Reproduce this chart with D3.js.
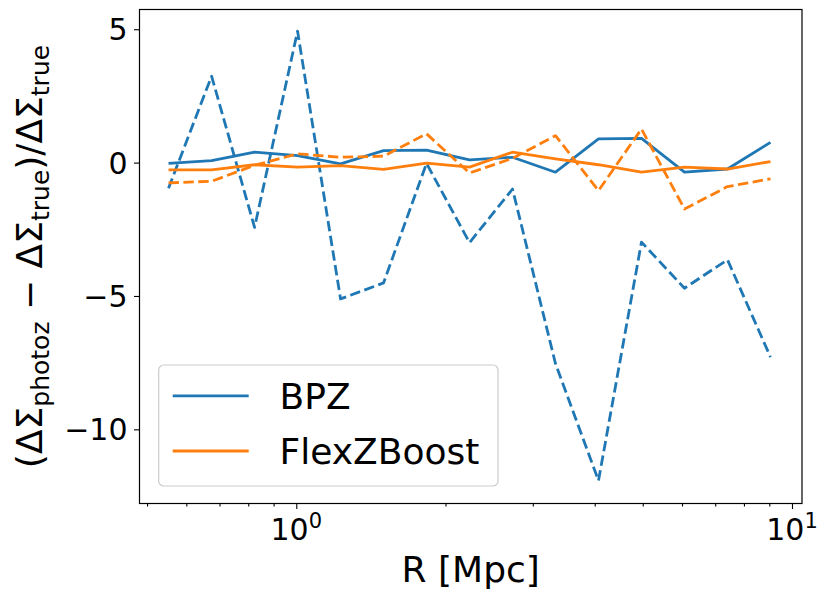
<!DOCTYPE html>
<html>
<head>
<meta charset="utf-8">
<script src="https://cdn.jsdelivr.net/npm/d3@7"></script>
<style>
  html, body { margin: 0; padding: 0; background: #fff; }
  svg { display: block; font-family: "DejaVu Sans", sans-serif; }
</style>
</head>
<body>
<svg id="chart" width="818" height="590"></svg>
<script>
// ---- data ----
const radius = [0.5524, 0.6747, 0.8238, 1.0059, 1.2282, 1.4997, 1.8312, 2.2360, 2.7302, 3.3337, 4.0706, 4.9704, 6.0690, 7.4105, 9.0486];
const bpzSolid = [-0.03, 0.075, 0.39, 0.26, -0.05, 0.45, 0.47, 0.1, 0.2, -0.36, 0.89, 0.91, -0.36, -0.24, 0.76];
const bpzDashed = [-0.96, 3.24, -2.43, 4.93, -5.11, -4.51, -0.03, -3.0, -0.99, -7.54, -11.92, -2.98, -4.71, -3.64, -7.29];
const flexSolid = [-0.27, -0.27, -0.08, -0.17, -0.11, -0.25, -0.02, -0.17, 0.39, 0.14, -0.08, -0.36, -0.17, -0.24, 0.04];
const flexDashed = [-0.76, -0.7, -0.1, 0.33, 0.2, 0.24, 1.08, -0.39, 0.16, 1.01, -1.05, 1.26, -1.74, -0.9, -0.61];
const seriesNames = ["BPZ", "FlexZBoost"];
const seriesColors = ["#1f77b4", "#ff7f0e"];
const yTicks = [5, 0, -5, -10];
const xMajorTicks = [1, 10];
const xMinorTicks = [0.5, 0.6, 0.7, 0.8, 0.9, 2, 3, 4, 5, 6, 7, 8, 9];

// ---- layout ----
const L = 139.5, R = 802, T = 9.5, B = 503.5;
const svg = d3.select("#chart");
const x = d3.scaleLog().domain([Math.pow(10, -0.3163), Math.pow(10, 1.0202)]).range([L, R]);
const y = d3.scaleLinear().domain([-12.78, 5.74]).range([B, T]);

const plotG = svg.append("g");
plotG.append("clipPath").attr("id", "clip").append("rect")
  .attr("x", L).attr("y", T).attr("width", R - L).attr("height", B - T);

const line = d3.line().x(d => x(d[0])).y(d => y(d[1]));
const lines = [
  { vals: bpzSolid, color: seriesColors[0], dash: null },
  { vals: bpzDashed, color: seriesColors[0], dash: "10.4,4.5" },
  { vals: flexSolid, color: seriesColors[1], dash: null },
  { vals: flexDashed, color: seriesColors[1], dash: "10.4,4.5" }
];
const linesG = plotG.append("g").attr("clip-path", "url(#clip)");
lines.forEach(s => {
  linesG.append("path")
    .datum(radius.map((r, i) => [r, s.vals[i]]))
    .attr("d", line)
    .attr("fill", "none")
    .attr("stroke", s.color)
    .attr("stroke-width", 2.8)
    .attr("stroke-linejoin", "round")
    .attr("stroke-dasharray", s.dash);
});

// ---- axes ----
const xAxisMajor = d3.axisBottom(x).tickValues(xMajorTicks).tickSize(5.5).tickFormat("");
const xAxisMinor = d3.axisBottom(x).tickValues(xMinorTicks).tickSize(3).tickFormat("");
const gx = svg.append("g").attr("transform", `translate(0,${B})`);
gx.call(xAxisMajor);
const gxm = svg.append("g").attr("transform", `translate(0,${B})`);
gxm.call(xAxisMinor);
[gx, gxm].forEach(g => {
  g.select(".domain").remove();
  g.selectAll("line").attr("stroke", "#000").attr("stroke-width", 1.1);
});
xMajorTicks.forEach(v => {
  const t = svg.append("text")
    .attr("x", x(v)).attr("y", 540)
    .attr("text-anchor", "middle")
    .attr("font-size", 30);
  t.append("tspan").text("10");
  t.append("tspan").attr("font-size", 21).attr("dy", -12).text(String(Math.round(Math.log10(v))));
});

const yAxis = d3.axisLeft(y).tickValues(yTicks).tickSize(5.5)
  .tickFormat(d => (d < 0 ? "\u2212" + Math.abs(d) : String(d)));
const gy = svg.append("g").attr("transform", `translate(${L},0)`).call(yAxis);
gy.select(".domain").remove();
gy.selectAll("line").attr("stroke", "#000").attr("stroke-width", 1.1);
gy.selectAll("text").attr("font-size", 30).attr("fill", "#000")
  .attr("font-family", "DejaVu Sans, sans-serif").attr("x", -12).attr("dy", "0.35em");

// frame
svg.append("rect").attr("x", L).attr("y", T).attr("width", R - L).attr("height", B - T)
  .attr("fill", "none").attr("stroke", "#000").attr("stroke-width", 1.2);

// ---- labels ----
svg.append("text").attr("x", (L + R) / 2).attr("y", 582).attr("text-anchor", "middle")
  .attr("font-size", 36).text("R [Mpc]");

const yl = svg.append("text")
  .attr("transform", `translate(42,${(T + B) / 2}) rotate(-90)`)
  .attr("text-anchor", "middle").attr("font-size", 36);
yl.append("tspan").text("(\u0394\u03A3");
yl.append("tspan").attr("font-size", 25).attr("dy", 7).text("photoz");
yl.append("tspan").attr("dy", -7).text(" \u2212 \u0394\u03A3");
yl.append("tspan").attr("font-size", 25).attr("dy", 7).text("true");
yl.append("tspan").attr("dy", -7).text(")/\u0394\u03A3");
yl.append("tspan").attr("font-size", 25).attr("dy", 7).text("true");

// ---- legend ----
const lg = svg.append("g");
lg.append("rect").attr("x", 158.7).attr("y", 365).attr("width", 339.3).attr("height", 121)
  .attr("rx", 5).attr("ry", 5)
  .attr("fill", "#fff").attr("fill-opacity", 0.8).attr("stroke", "#cccccc").attr("stroke-width", 1.2);
const legendY = [395.8, 451];
seriesNames.forEach((name, i) => {
  lg.append("line").attr("x1", 172.7).attr("x2", 248.7).attr("y1", legendY[i]).attr("y2", legendY[i])
    .attr("stroke", seriesColors[i]).attr("stroke-width", 2.8);
  lg.append("text").attr("x", 279.6).attr("y", legendY[i] + 13.1).attr("font-size", 36).text(name);
});
</script>
</body>
</html>
